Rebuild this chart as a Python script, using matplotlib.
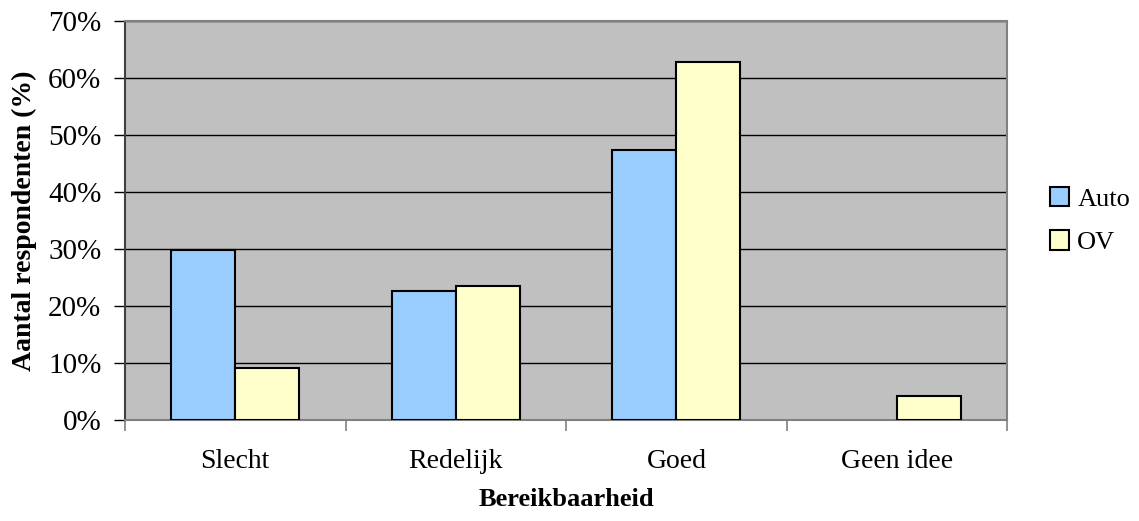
import numpy as np
import matplotlib.pyplot as plt
from matplotlib.ticker import FixedLocator, NullFormatter

plt.rcParams['font.family'] = ['Liberation Serif', 'DejaVu Serif']

# Survey answers: reachability by car vs public transport (percent of respondents)
categories = ['Slecht', 'Redelijk', 'Goed', 'Geen idee']
auto = [29.8, 22.7, 47.4, 0.0]
ov = [9.1, 23.5, 62.8, 4.2]
yticks = [0, 10, 20, 30, 40, 50, 60, 70]

fig = plt.figure(figsize=(11.39, 5.21), dpi=100)
ax = fig.add_axes([0.1097, 0.1939, 0.7747, 0.7658])

x = np.arange(len(categories))
w = 0.29
# empty bars get no outline
ax.bar(x - w / 2, auto, w, color='#99CCFF', edgecolor='black',
       linewidth=[1.5 if v > 0 else 0 for v in auto], label='Auto', zorder=3)
ax.bar(x + w / 2, ov, w, color='#FFFFCC', edgecolor='black',
       linewidth=[1.5 if v > 0 else 0 for v in ov], label='OV', zorder=3)

ax.set_facecolor('#C0C0C0')
ax.set_xlim(-0.5, len(categories) - 0.5)
ax.set_ylim(0, 70)
ax.set_yticks(yticks)
ax.set_yticklabels([f'{t}%' for t in yticks], fontsize=21)
ax.yaxis.grid(True, color='black', linewidth=1.0, zorder=1)
ax.set_axisbelow(True)

# category labels in the middle, tick marks on the group boundaries
ax.set_xticks(x)
ax.set_xticklabels(categories, fontsize=20)
ax.tick_params(axis='x', which='major', length=0, pad=21)
ax.xaxis.set_minor_locator(FixedLocator(np.arange(len(categories) + 1) - 0.5))
ax.xaxis.set_minor_formatter(NullFormatter())
ax.tick_params(axis='x', which='minor', length=8, color='#808080', width=1.2)
ax.tick_params(axis='y', length=8, color='black', width=1.0, pad=9)

for side in ['top', 'right', 'bottom']:
    ax.spines[side].set_color('#808080')
    ax.spines[side].set_linewidth(1.5)
ax.spines['left'].set_color('#404040')
ax.spines['left'].set_linewidth(1.5)

ax.set_ylabel('Aantal respondenten (%)', fontsize=20, fontweight='bold', labelpad=8)
ax.set_xlabel('Bereikbaarheid', fontsize=19, fontweight='bold', labelpad=10)

ax.legend(loc='center left', bbox_to_anchor=(1.021, 0.5), frameon=False,
          fontsize=19, handlelength=0.75, handleheight=0.75, handletextpad=0.3,
          labelspacing=0.75)

fig.savefig('out.png', dpi=100)
